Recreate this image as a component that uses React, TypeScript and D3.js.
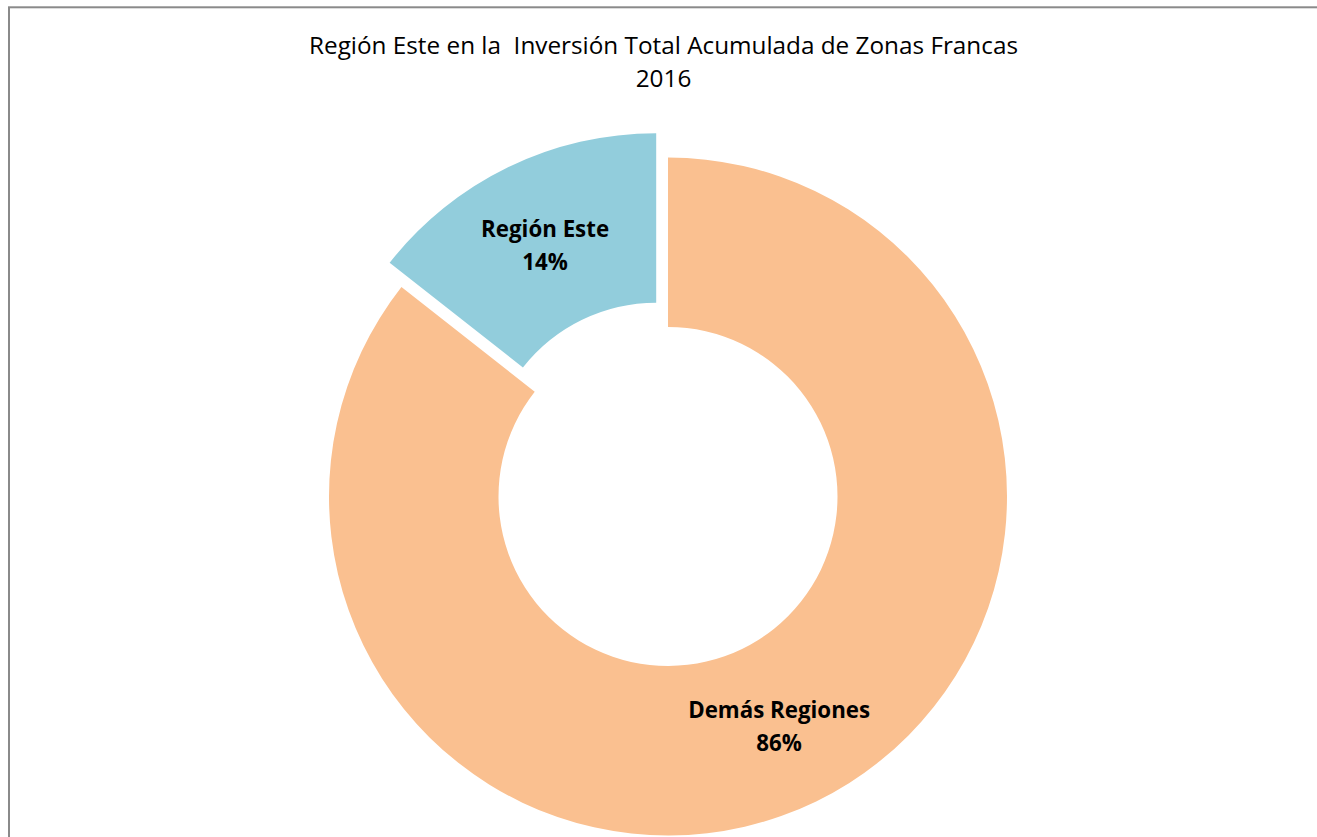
import React from "react";
import * as d3 from "d3";

const categories = ["Demás Regiones", "Región Este"];
const values = [85.6, 14.4];
const colors = ["#FAC090", "#92CDDC"];
const exploded = [false, true];
const titleLines = ["Región Este en la  Inversión Total Acumulada de Zonas Francas", "2016"];

const W = 1317;
const H = 837;
const CX = 668;
const CY = 496.5;
const R_OUT = 339;
const R_IN = 169.5;
const EXPLODE = 27;
const FONT = "'Open Sans', Lato, sans-serif";

export default function App() {
  const data = categories.map((c, i) => ({ name: c, value: values[i], color: colors[i], exploded: exploded[i] }));
  const total = d3.sum(values);
  const pie = d3.pie<any>().value((d) => d.value).sort(null).startAngle(0).endAngle(2 * Math.PI);
  const arc = d3.arc<any>().innerRadius(R_IN).outerRadius(R_OUT);
  const arcs = pie(data);
  const fmt = (v: number) => `${Math.round((v / total) * 100)}%`;

  return (
    <svg width={W} height={H} style={{ position: "absolute", left: 0, top: 0, background: "#fff" }}>
      <rect x={9} y={7.3} width={W + 10} height={H + 10} fill="#fff" stroke="#8a8a8a" strokeWidth={2} />
      <g fontFamily={FONT} fontSize={24.3} fill="#000" textAnchor="middle">
        <text x={663.5} y={54} xmlSpace="preserve" style={{ whiteSpace: "pre" }}>{titleLines[0]}</text>
        <text x={663.5} y={86.5}>{titleLines[1]}</text>
      </g>
      {arcs.map((a, i) => {
        const mid = (a.startAngle + a.endAngle) / 2;
        const off = a.data.exploded ? EXPLODE : 0;
        const dx = Math.sin(mid) * off;
        const dy = -Math.cos(mid) * off;
        const [lx, ly] = arc.centroid(a);
        return (
          <g key={i} transform={`translate(${CX + dx},${CY + dy})`}>
            <path d={arc(a) || ""} fill={a.data.color} />
            <g fontFamily={FONT} fontWeight="bold" fontSize={22.3} textAnchor="middle" fill="#000">
              <text x={lx} y={ly - 7}>{a.data.name}</text>
              <text x={lx} y={ly + 26}>{fmt(a.data.value)}</text>
            </g>
          </g>
        );
      })}
    </svg>
  );
}
